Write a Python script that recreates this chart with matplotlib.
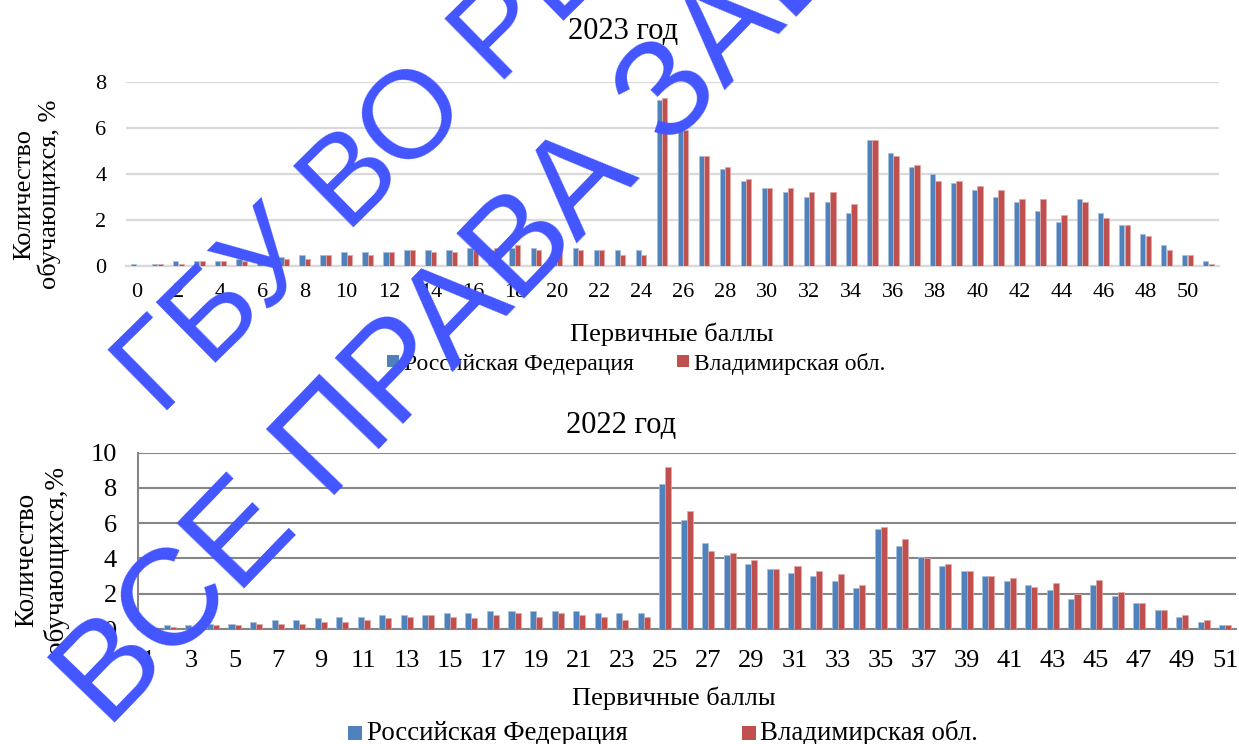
import matplotlib
matplotlib.use("Agg")
import matplotlib.pyplot as plt
from matplotlib.patches import Rectangle
import numpy as np

W, H = 1239, 744
plt.rcParams['font.family'] = ['Liberation Serif', 'DejaVu Serif']

series = ["Российская Федерация", "Владимирская обл."]
colors = ["#4F81BD", "#C0504D"]

# 2023
cats23 = list(range(0, 52))
rf23 = [0.1, 0.1, 0.2, 0.2, 0.2, 0.3, 0.4, 0.4, 0.5, 0.5, 0.6, 0.6, 0.6, 0.7, 0.7, 0.7, 0.8, 0.7, 0.8, 0.8,
        0.8, 0.8, 0.7, 0.7, 0.7, 7.2, 5.9, 4.8, 4.2, 3.7, 3.4, 3.2, 3.0, 2.8, 2.3, 5.5, 4.9, 4.3, 4.0, 3.6,
        3.3, 3.0, 2.8, 2.4, 1.9, 2.9, 2.3, 1.8, 1.4, 0.9, 0.5, 0.2]
vl23 = [0.0, 0.1, 0.1, 0.2, 0.2, 0.2, 0.3, 0.3, 0.3, 0.5, 0.5, 0.5, 0.6, 0.7, 0.6, 0.6, 0.7, 0.8, 0.9, 0.7,
        0.8, 0.7, 0.7, 0.5, 0.5, 7.3, 5.9, 4.8, 4.3, 3.8, 3.4, 3.4, 3.2, 3.2, 2.7, 5.5, 4.8, 4.4, 3.7, 3.7,
        3.5, 3.3, 2.9, 2.9, 2.2, 2.8, 2.1, 1.8, 1.3, 0.7, 0.5, 0.1]
ticks23 = list(range(0, 51, 2))

# 2022
cats22 = list(range(1, 52))
rf22 = [0.0, 0.2, 0.2, 0.3, 0.3, 0.4, 0.5, 0.5, 0.6, 0.7, 0.7, 0.8, 0.8, 0.8, 0.9, 0.9, 1.0, 1.0, 1.0, 1.0,
        1.0, 0.9, 0.9, 0.9, 8.2, 6.2, 4.9, 4.2, 3.7, 3.4, 3.2, 3.0, 2.7, 2.3, 5.7, 4.7, 4.1, 3.6, 3.3, 3.0,
        2.7, 2.5, 2.2, 1.7, 2.5, 1.9, 1.5, 1.1, 0.7, 0.4, 0.2]
vl22 = [0.0, 0.1, 0.1, 0.2, 0.2, 0.3, 0.3, 0.3, 0.4, 0.4, 0.5, 0.6, 0.7, 0.8, 0.7, 0.6, 0.8, 0.9, 0.7, 0.9,
        0.8, 0.7, 0.5, 0.7, 9.2, 6.7, 4.4, 4.3, 3.9, 3.4, 3.6, 3.3, 3.1, 2.5, 5.8, 5.1, 4.0, 3.7, 3.3, 3.0,
        2.9, 2.4, 2.6, 2.0, 2.8, 2.1, 1.5, 1.1, 0.8, 0.5, 0.2]
ticks22 = list(range(1, 52, 2))

titles = ["2023 год", "2022 год"]
xlabel = "Первичные баллы"
ylabels = ["Количество\nобучающихся, %", "Количество\nобучающихся,%"]
watermark = ["ГБУ ВО РЦОКО", "ВСЕ ПРАВА ЗАЩИЩЕНЫ"]

fig = plt.figure(figsize=(W / 100, H / 100), dpi=100)


def fx(px):
    return px / W


def fy(py):
    return 1 - py / H


def box(l, r, t, b):
    return [fx(l), fy(b), (r - l) / W, (b - t) / H]


# ---------- top chart (2023) ----------
ax1 = fig.add_axes(box(126, 1219, 82, 266))
x = np.array(cats23)
ax1.bar(x - 0.13, rf23, width=0.25, color=colors[0], edgecolor="#A7C0DE", linewidth=0.6, zorder=3)
ax1.bar(x + 0.13, vl23, width=0.25, color=colors[1], edgecolor="#E0A8A6", linewidth=0.6, zorder=3)
ax1.set_xlim(-0.5, 51.5)
ax1.set_ylim(0, 8)
ax1.set_yticks([0, 2, 4, 6, 8])
ax1.set_xticks(ticks23)
ax1.grid(axis="y", color="#D9D9D9", linewidth=1.6, zorder=0)
for s in ["top", "right", "left"]:
    ax1.spines[s].set_visible(False)
ax1.spines["bottom"].set_color("#D9D9D9")
ax1.spines["bottom"].set_linewidth(1.6)
ax1.tick_params(axis="both", length=0, labelsize=16)
ax1.tick_params(axis="x", pad=12)
ax1.tick_params(axis="y", pad=14)
ax1.set_axisbelow(True)

# ---------- bottom chart (2022) ----------
ax2 = fig.add_axes(box(137.6, 1236, 452.7, 629))
x2 = np.array(cats22)
ax2.bar(x2 - 0.14, rf22, width=0.28, color=colors[0], edgecolor="#A7C0DE", linewidth=0.5, zorder=3)
ax2.bar(x2 + 0.14, vl22, width=0.28, color=colors[1], edgecolor="#E0A8A6", linewidth=0.5, zorder=3)
ax2.set_xlim(0.5, 51.5)
ax2.set_ylim(0, 10)
ax2.set_yticks([0, 2, 4, 6, 8, 10])
ax2.set_xticks(ticks22)
ax2.grid(axis="y", color="#868686", linewidth=1.5, zorder=0)
for s in ["top", "right"]:
    ax2.spines[s].set_visible(False)
for s in ["bottom", "left"]:
    ax2.spines[s].set_color("#868686")
    ax2.spines[s].set_linewidth(1.5)
ax2.tick_params(axis="both", length=0, labelsize=19)
ax2.tick_params(axis="x", pad=15)
ax2.tick_params(axis="y", pad=15)
ax2.set_axisbelow(True)

# ---------- titles, axis titles ----------
fig.text(fx(623), fy(39), titles[0], ha="center", va="baseline", fontsize=22)
fig.text(fx(621), fy(433), titles[1], ha="center", va="baseline", fontsize=22)
fig.text(fx(672), fy(341), xlabel, ha="center", va="baseline", fontsize=19)
fig.text(fx(674), fy(705), xlabel, ha="center", va="baseline", fontsize=19)
fig.text(fx(37), fy(194), ylabels[0], ha="center", va="center", rotation=90, fontsize=19, linespacing=1.1)
fig.text(fx(42), fy(560), ylabels[1], ha="center", va="center", rotation=90, fontsize=19.5, linespacing=1.2)

# ---------- legends ----------
def legend_item(sq_l, sq_t, size, txt_x, txt_y, label, color, fs):
    fig.add_artist(Rectangle((fx(sq_l), fy(sq_t + size)), size / W, size / H,
                             transform=fig.transFigure, facecolor=color, edgecolor="none"))
    fig.text(fx(txt_x), fy(txt_y), label, ha="left", va="baseline", fontsize=fs)

legend_item(387, 355, 12, 404, 370, series[0], colors[0], 17)
legend_item(677, 355, 12, 694, 370, series[1], colors[1], 17)
legend_item(348, 726, 14, 367, 740, series[0], colors[0], 19.4)
legend_item(742, 726, 14, 760, 740, series[1], colors[1], 19.4)

# ---------- watermark ----------
wm = dict(color="#4255FF", family="Liberation Sans",
          rotation_mode="anchor", ha="left", va="baseline", zorder=10)
fig.text(fx(160), fy(417), watermark[0], fontsize=90, rotation=44.5, **wm)
fig.text(fx(108), fy(730), watermark[1], fontsize=99, rotation=46, **wm)

fig.savefig("out.png", dpi=100)
